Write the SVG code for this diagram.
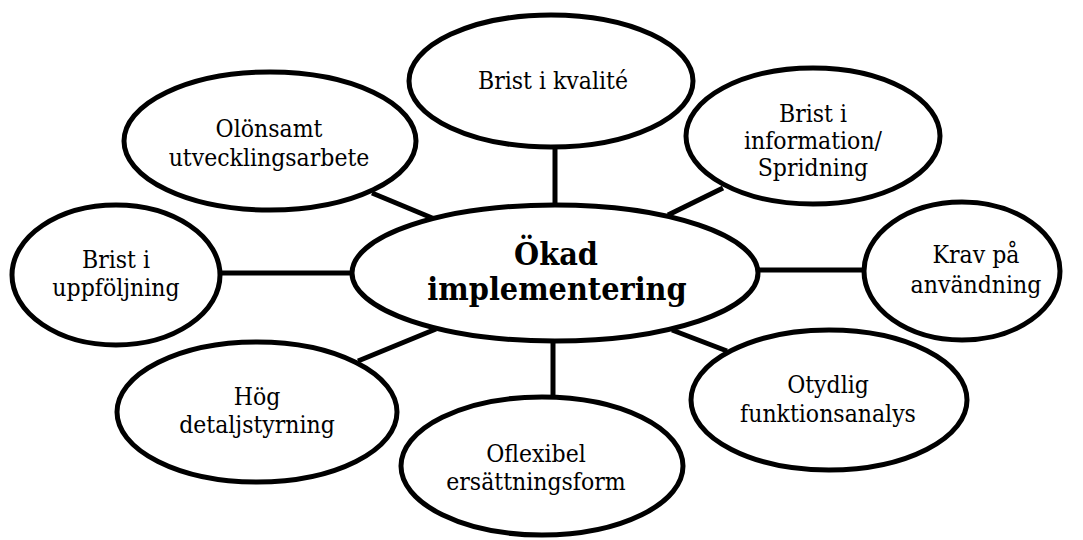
<svg xmlns="http://www.w3.org/2000/svg" width="1083" height="540" viewBox="0 0 1083 540">
<style>
.n{fill:#fff;stroke:#000;stroke-width:5}
.c line{stroke:#000;stroke-width:5}
text{font-family:"DejaVu Serif","Liberation Serif",serif;font-stretch:condensed;font-size:24.5px;fill:#000;text-anchor:middle}
.b{font-weight:bold;font-size:32px}
</style>
<rect width="1083" height="540" fill="#fff"/>
<g class="c" id="connectors">
<line x1="555" y1="147" x2="555" y2="207"/>
<line x1="372" y1="193" x2="437" y2="220"/>
<line x1="220" y1="273" x2="354" y2="273"/>
<line x1="358" y1="361" x2="436" y2="329"/>
<line x1="553" y1="340" x2="553" y2="399"/>
<line x1="672" y1="330" x2="727" y2="351"/>
<line x1="756" y1="270" x2="877" y2="270"/>
<line x1="723" y1="188" x2="668" y2="215"/>
</g>
<g id="kvalite"><ellipse class="n" cx="551" cy="81" rx="142" ry="66"/><text x="553" y="89">Brist i kvalité</text></g>
<g id="olonsamt"><ellipse class="n" cx="270" cy="141" rx="146" ry="69"/><text x="269" y="137">Olönsamt</text><text x="269" y="166">utvecklingsarbete</text></g>
<g id="information"><ellipse class="n" cx="813" cy="136" rx="127" ry="68"/><text x="813" y="122">Brist i</text><text x="813" y="149">information/</text><text x="813" y="176">Spridning</text></g>
<g id="uppfoljning"><ellipse class="n" cx="116" cy="275" rx="104" ry="70"/><text x="116" y="268">Brist i</text><text x="116" y="296">uppföljning</text></g>
<g id="krav"><ellipse class="n" cx="962" cy="271" rx="98" ry="69"/><text x="976" y="263">Krav på</text><text x="976" y="293">användning</text></g>
<g id="center"><ellipse class="n" cx="555" cy="273" rx="203" ry="68"/><text class="b" x="556" y="265">Ökad</text><text class="b" x="557" y="300">implementering</text></g>
<g id="hog"><ellipse class="n" cx="257" cy="412" rx="140" ry="70"/><text x="257" y="405">Hög</text><text x="257" y="433">detaljstyrning</text></g>
<g id="otydlig"><ellipse class="n" cx="829" cy="400" rx="138" ry="70"/><text x="828" y="393">Otydlig</text><text x="828" y="422">funktionsanalys</text></g>
<g id="oflexibel"><ellipse class="n" cx="542" cy="466" rx="141" ry="69"/><text x="536" y="462">Oflexibel</text><text x="536" y="490">ersättningsform</text></g>
</svg>
